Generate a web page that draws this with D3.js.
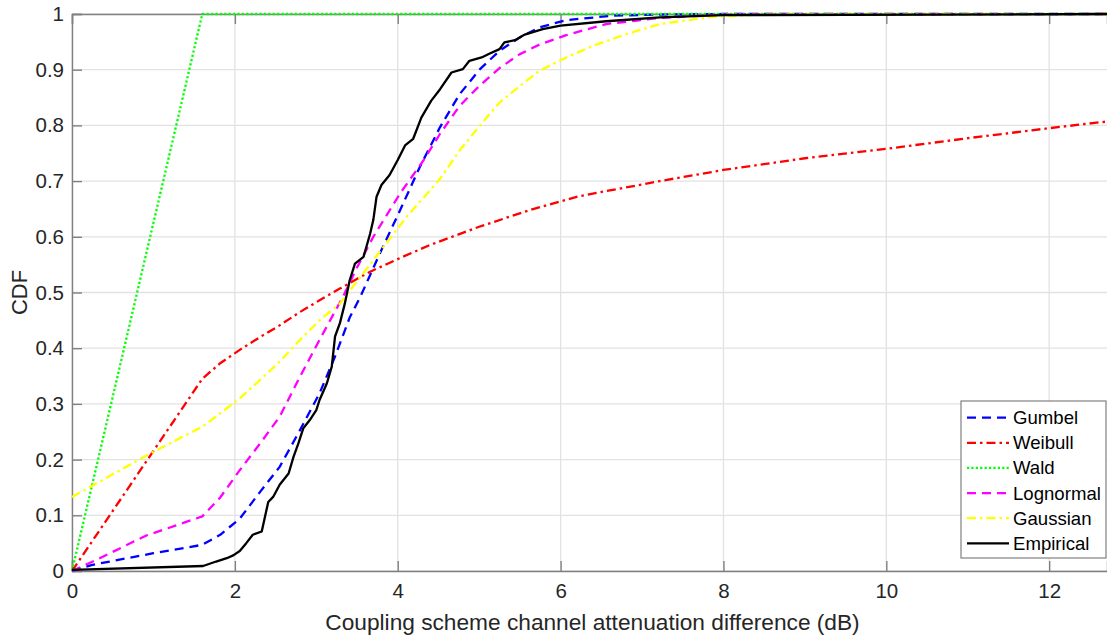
<!DOCTYPE html>
<html>
<head>
<meta charset="utf-8">
<script src="https://cdn.jsdelivr.net/npm/d3@7/dist/d3.min.js"></script>
<style>
  html, body { margin: 0; padding: 0; background: #fff; }
  svg { display: block; }
  text { font-family: "Liberation Sans", Arial, Helvetica, sans-serif; }
</style>
</head>
<body>
<svg id="chart" width="1107" height="636"></svg>
<script>
// ---------------- data ----------------
const seriesNames = ["Gumbel", "Weibull", "Wald", "Lognormal", "Gaussian", "Empirical"];

const gumbelX = [0, 0.25, 1.0, 1.6, 1.82, 2.06, 2.31, 2.55, 2.8, 3.04, 3.23, 3.41, 3.54, 3.78, 4.03, 4.27, 4.52, 4.76, 5.01, 5.25, 5.5, 5.74, 6.07, 6.64, 7.2, 8.0, 12.71];
const gumbelY = [0, 0.011, 0.032, 0.047, 0.065, 0.094, 0.142, 0.187, 0.253, 0.319, 0.385, 0.455, 0.492, 0.57, 0.648, 0.725, 0.797, 0.856, 0.901, 0.934, 0.958, 0.976, 0.989, 0.997, 0.999, 1, 1];

const weibullX = [0, 1.6, 1.82, 2.06, 2.31, 2.55, 2.8, 3.04, 3.29, 3.53, 3.7, 4.0, 4.39, 5.0, 5.62, 6.23, 7.22, 8.0, 9.0, 10.0, 11.0, 12.0, 12.71];
const weibullY = [0, 0.345, 0.373, 0.397, 0.42, 0.441, 0.465, 0.486, 0.507, 0.527, 0.54, 0.56, 0.585, 0.618, 0.648, 0.673, 0.700, 0.72, 0.741, 0.758, 0.777, 0.795, 0.807];

const waldX = [0, 1.6, 12.71];
const waldY = [0, 1, 1];

const lognormalX = [0, 0.3, 0.9, 1.6, 1.82, 2.06, 2.31, 2.55, 2.8, 3.04, 3.33, 3.5, 3.7, 4.03, 4.32, 4.52, 4.76, 5.01, 5.25, 5.5, 5.74, 6.07, 6.56, 7.22, 8.0, 12.71];
const lognormalY = [0, 0.02, 0.063, 0.098, 0.132, 0.181, 0.229, 0.277, 0.349, 0.415, 0.493, 0.545, 0.6, 0.678, 0.738, 0.785, 0.835, 0.872, 0.903, 0.928, 0.945, 0.962, 0.982, 0.993, 0.999, 1];

const gaussianX = [0, 0.96, 1.6, 1.82, 2.06, 2.31, 2.55, 2.8, 3.04, 3.29, 3.7, 4.11, 4.52, 4.76, 5.01, 5.25, 5.5, 5.74, 6.07, 6.4, 6.81, 7.22, 7.87, 8.5, 12.71];
const gaussianY = [0.133, 0.211, 0.259, 0.283, 0.31, 0.343, 0.376, 0.415, 0.45, 0.48, 0.558, 0.636, 0.704, 0.755, 0.8, 0.841, 0.871, 0.898, 0.922, 0.943, 0.964, 0.982, 0.995, 0.999, 1];

const empiricalX = [0, 1.61, 1.77, 1.9, 1.98, 2.06, 2.14, 2.22, 2.33, 2.41, 2.47, 2.55, 2.66, 2.72, 2.78, 2.84, 2.92, 3.0, 3.04, 3.13, 3.19, 3.23, 3.29, 3.35, 3.41, 3.475, 3.58, 3.66, 3.70, 3.74, 3.8, 3.9, 4.0, 4.09, 4.19, 4.29, 4.41, 4.52, 4.66, 4.8, 4.88, 5.03, 5.13, 5.25, 5.31, 5.44, 5.56, 5.78, 6.0, 6.56, 7.22, 8.0, 10.6, 12.71];
const empiricalY = [0.002, 0.009, 0.017, 0.023, 0.028, 0.036, 0.05, 0.065, 0.071, 0.124, 0.133, 0.155, 0.175, 0.205, 0.229, 0.256, 0.271, 0.289, 0.307, 0.337, 0.367, 0.421, 0.445, 0.48, 0.522, 0.552, 0.564, 0.605, 0.63, 0.672, 0.693, 0.711, 0.738, 0.764, 0.776, 0.814, 0.844, 0.865, 0.895, 0.901, 0.916, 0.922, 0.929, 0.937, 0.949, 0.953, 0.963, 0.973, 0.979, 0.987, 0.994, 0.998, 0.999, 1];

const xTicks = [0, 2, 4, 6, 8, 10, 12];
const yTicks = [0, 0.1, 0.2, 0.3, 0.4, 0.5, 0.6, 0.7, 0.8, 0.9, 1];
const xLabel = "Coupling scheme channel attenuation difference (dB)";
const yLabel = "CDF";

// ---------------- layout / style ----------------
const plot = { left: 72, top: 14, right: 1107, bottom: 571 };
const styles = {
  Gumbel:    { color: "#0000ff", dash: "9,6",      width: 2.3 },
  Weibull:   { color: "#ff0000", dash: "9,4,2.5,4", width: 2.3 },
  Wald:      { color: "#00ff00", dash: "2.2,2.2",  width: 2.3 },
  Lognormal: { color: "#ff00ff", dash: "9,6",      width: 2.3 },
  Gaussian:  { color: "#ffff00", dash: "9,4,2.5,4", width: 2.3 },
  Empirical: { color: "#000000", dash: null,       width: 2.3 }
};
const seriesData = {
  Gumbel: [gumbelX, gumbelY],
  Weibull: [weibullX, weibullY],
  Wald: [waldX, waldY],
  Lognormal: [lognormalX, lognormalY],
  Gaussian: [gaussianX, gaussianY],
  Empirical: [empiricalX, empiricalY]
};

const svg = d3.select("#chart");
const x = d3.scaleLinear().domain([0, 12.71]).range([plot.left, plot.right]);
const y = d3.scaleLinear().domain([0, 1]).range([plot.bottom, plot.top]);

// grid
const grid = svg.append("g");
grid.selectAll("line.vx").data(xTicks).join("line")
  .attr("x1", d => x(d)).attr("x2", d => x(d))
  .attr("y1", plot.top).attr("y2", plot.bottom)
  .attr("stroke", "#e2e2e2").attr("stroke-width", 1.3);
grid.selectAll("line.hy").data(yTicks).join("line")
  .attr("x1", plot.left).attr("x2", plot.right)
  .attr("y1", d => y(d)).attr("y2", d => y(d))
  .attr("stroke", "#e2e2e2").attr("stroke-width", 1.3);

// axes
const axisColor = "#808080";
const xAxis = svg.append("g").attr("transform", `translate(0,${plot.bottom})`)
  .call(d3.axisBottom(x).tickValues(xTicks).tickSize(-10).tickPadding(12).tickFormat(d3.format("d")));
const xAxisTop = svg.append("g").attr("transform", `translate(0,${plot.top})`)
  .call(d3.axisTop(x).tickValues(xTicks).tickSize(-10).tickFormat(""));
const yAxis = svg.append("g").attr("transform", `translate(${plot.left},0)`)
  .call(d3.axisLeft(y).tickValues(yTicks).tickSize(-10).tickPadding(8).tickFormat(d => d === 0 || d === 1 ? d3.format("d")(d) : d3.format(".1f")(d)));
[xAxis, xAxisTop, yAxis].forEach(g => {
  g.select(".domain").attr("stroke", axisColor).attr("stroke-width", 1.4);
  g.selectAll(".tick line").attr("stroke", axisColor).attr("stroke-width", 1.4);
  g.selectAll(".tick text").attr("fill", "#262626").style("font-size", "20.5px")
    .style("font-family", '"Liberation Sans", Arial, sans-serif');
});
xAxis.selectAll(".tick text").attr("dy", "0.71em");

// axis labels
svg.append("text").attr("x", (plot.left + plot.right) / 2 + 3).attr("y", 630)
  .attr("text-anchor", "middle").attr("fill", "#262626").style("font-size", "22.7px")
  .text(xLabel);
svg.append("text").attr("transform", `translate(27,${(plot.top + plot.bottom) / 2}) rotate(-90)`)
  .attr("text-anchor", "middle").attr("fill", "#262626").style("font-size", "22px")
  .text(yLabel);

// lines
const lineGen = d3.line().x(d => x(d[0])).y(d => y(d[1]));
const linesG = svg.append("g");
seriesNames.forEach(name => {
  const [xs, ys] = seriesData[name];
  const pts = xs.map((v, i) => [v, ys[i]]);
  const s = styles[name];
  linesG.append("path").datum(pts)
    .attr("d", lineGen)
    .attr("fill", "none")
    .attr("stroke", s.color)
    .attr("stroke-width", s.width)
    .attr("stroke-dasharray", s.dash)
    .attr("stroke-linejoin", "round");
});

// legend
const legend = { x: 961, y: 401, w: 145, h: 157 };
const lg = svg.append("g");
lg.append("rect").attr("x", legend.x).attr("y", legend.y).attr("width", legend.w).attr("height", legend.h)
  .attr("fill", "#fff").attr("stroke", "#808080").attr("stroke-width", 1.2);
const ly = d3.scalePoint().domain(seriesNames).range([417.7, 543.3]);
seriesNames.forEach(name => {
  const s = styles[name];
  lg.append("line").attr("x1", 967).attr("x2", 1009).attr("y1", ly(name)).attr("y2", ly(name))
    .attr("stroke", s.color).attr("stroke-width", s.width).attr("stroke-dasharray", s.dash);
  lg.append("text").attr("x", 1013).attr("y", ly(name)).attr("dy", "0.35em")
    .attr("fill", "#000").style("font-size", "18.6px").text(name);
});
</script>
</body>
</html>
